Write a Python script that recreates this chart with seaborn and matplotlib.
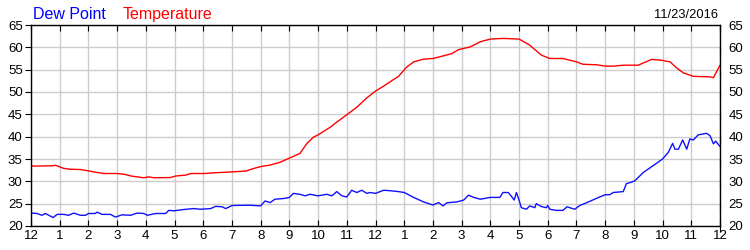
import matplotlib
matplotlib.use("Agg")
import matplotlib.pyplot as plt
import seaborn as sns
import pandas as pd

# Temperature (red)
temp_hours = [0, 0.09, 0.79, 0.85, 1.14, 1.37, 1.72, 2.0, 2.19, 2.53, 3.0, 3.23, 3.52, 3.93,
              4.1, 4.28, 4.86, 5.05, 5.4, 5.56, 6.02, 6.37, 6.95, 7.48, 7.77,
              8.0, 8.33, 8.67, 9.0, 9.37, 9.6, 9.84, 10.0, 10.42, 10.65, 11.0, 11.35, 11.7,
              12.0, 12.28, 12.63, 12.8, 13.09, 13.33, 13.67, 14.0, 14.31, 14.66, 14.9, 15.3,
              15.65, 16.0, 16.44, 17.0, 17.37, 17.78, 18.07, 18.53, 19.0, 19.23, 19.7, 20.0,
              20.3, 20.63, 21.15, 21.33, 21.62, 21.97, 22.26, 22.49, 22.72, 23.07, 23.65,
              23.77, 24.0]
temp_values = [33.6, 33.4, 33.5, 33.6, 32.9, 32.7, 32.65, 32.35, 32.1, 31.75, 31.75, 31.6, 31.15, 30.8,
               31.0, 30.8, 30.85, 31.2, 31.4, 31.75, 31.75, 31.9, 32.1, 32.3, 32.9,
               33.3, 33.65, 34.25, 35.2, 36.25, 38.4, 39.9, 40.4, 42.1, 43.25, 44.9, 46.6, 48.7,
               50.2, 51.3, 52.8, 53.5, 55.6, 56.75, 57.35, 57.5, 58.0, 58.6, 59.5, 60.1,
               61.25, 61.85, 62.0, 61.85, 60.5, 58.25, 57.5, 57.5, 56.75, 56.2, 56.1, 55.8,
               55.8, 56.0, 56.0, 56.5, 57.3, 57.1, 56.75, 55.4, 54.3, 53.5, 53.4,
               53.2, 56.0]

# Dew point (blue)
dew_hours = [0, 0.21, 0.38, 0.5, 0.62, 0.77, 0.91, 1.14, 1.31, 1.49, 1.72, 1.9, 2.0, 2.24, 2.3,
             2.48, 2.77, 2.94, 3.17, 3.47, 3.7, 3.93, 4.05, 4.34, 4.69, 4.8, 4.98, 5.33, 5.67,
             5.91, 6.26, 6.43, 6.66, 6.78, 7.01, 7.63,
             8.0, 8.15, 8.33, 8.5, 8.8, 9.0, 9.14, 9.37, 9.55, 9.72, 10.0, 10.3, 10.48, 10.65,
             10.83, 11.0, 11.17, 11.35, 11.52, 11.7, 11.81, 12.0, 12.28, 12.51, 12.8, 13.0,
             13.33, 13.67, 14.0, 14.2, 14.35, 14.49, 14.84, 15.07, 15.24, 15.42, 15.65, 16.0,
             16.33, 16.44, 16.62, 16.73, 16.83, 16.91, 17.0, 17.08, 17.26, 17.37, 17.55, 17.6,
             17.78, 17.95, 18.0, 18.07, 18.3, 18.53, 18.67, 18.94, 19.12, 19.35, 19.58, 19.81,
             20.0, 20.16, 20.28, 20.63, 20.74, 20.86, 21.03, 21.33, 21.67, 22.0, 22.2, 22.35,
             22.43, 22.55, 22.7, 22.84, 22.95, 23.07, 23.24, 23.53, 23.65, 23.77, 23.85, 24.0]
dew_values = [22.9, 22.8, 22.4, 22.8, 22.4, 21.9, 22.6, 22.6, 22.4, 22.9, 22.4, 22.4, 22.8, 22.8, 23.1,
              22.6, 22.6, 22.0, 22.5, 22.4, 22.9, 22.8, 22.4, 22.8, 22.8, 23.5, 23.4, 23.7, 23.9,
              23.75, 23.9, 24.4, 24.3, 23.9, 24.6, 24.65,
              24.5, 25.6, 25.25, 26.0, 26.15, 26.4, 27.3, 27.1, 26.75, 27.1, 26.75, 27.1, 26.75, 27.7,
              26.75, 26.5, 28.0, 27.5, 28.0, 27.3, 27.5, 27.3, 28.0, 27.9, 27.7, 27.5,
              26.4, 25.4, 24.7, 25.25, 24.5, 25.2, 25.4, 25.8, 26.9, 26.4, 26.0, 26.4,
              26.4, 27.5, 27.5, 26.7, 25.8, 27.5, 25.8, 24.1, 23.75, 24.5, 24.1, 25.0,
              24.35, 24.1, 24.6, 23.75, 23.5, 23.5, 24.3, 23.75, 24.6, 25.2, 25.85, 26.5,
              27.0, 27.0, 27.5, 27.7, 29.5, 29.7, 30.1, 32.0, 33.5, 35.0, 36.5, 38.5,
              37.2, 37.2, 39.25, 37.2, 39.5, 39.25, 40.4, 40.75, 40.25, 38.4, 39.0, 37.8]

x_tick_labels = ["12", "1", "2", "3", "4", "5", "6", "7", "8", "9", "10", "11",
                 "12", "1", "2", "3", "4", "5", "6", "7", "8", "9", "10", "11", "12"]
y_ticks = [20, 25, 30, 35, 40, 45, 50, 55, 60, 65]
date_label = "11/23/2016"

sns.set_style("white")
plt.rcParams['font.family'] = ['Liberation Sans', 'DejaVu Sans']

fig = plt.figure(figsize=(7.5, 2.5), dpi=100)
ax = fig.add_axes([31/750, 1 - 226/250, (720 - 31)/750, (226 - 25)/250])

temp_df = pd.DataFrame({"hour": temp_hours, "value": temp_values})
dew_df = pd.DataFrame({"hour": dew_hours, "value": dew_values})
sns.lineplot(data=temp_df, x="hour", y="value", ax=ax, color="#ff0000", linewidth=1.0)
sns.lineplot(data=dew_df, x="hour", y="value", ax=ax, color="#1010ff", linewidth=1.0)

ax.set_xlim(0, 24)
ax.set_ylim(20, 65)
ax.set_xticks(range(25))
ax.set_xticklabels(x_tick_labels)
ax.set_yticks(y_ticks)
ax.set_xlabel("")
ax.set_ylabel("")
ax.grid(True, color="#cccccc", linewidth=1.0)
ax.set_axisbelow(True)
for s in ax.spines.values():
    s.set_color("black")
    s.set_linewidth(1.0)

ax.tick_params(axis="x", direction="in", length=4, top=True, bottom=True,
               labelsize=9.5, colors="black", pad=3)
ax.tick_params(axis="y", which="both", labelsize=9.5, left=True, right=True,
               labelleft=True, labelright=True, length=4, colors="black", pad=2)
for t in ax.yaxis.get_major_ticks():
    t.tick2line.set_marker(3)  # right tick pointing inward

fig.text(33/750, 1 - 19/250, "Dew Point", color="#0000ff", fontsize=11.5, ha="left", va="baseline")
fig.text(123/750, 1 - 19/250, "Temperature", color="#ff0000", fontsize=11.5, ha="left", va="baseline")
fig.text(718/750, 1 - 18/250, date_label, color="black", fontsize=9.3, ha="right", va="baseline")

fig.savefig("out.png", dpi=100, facecolor="white")
